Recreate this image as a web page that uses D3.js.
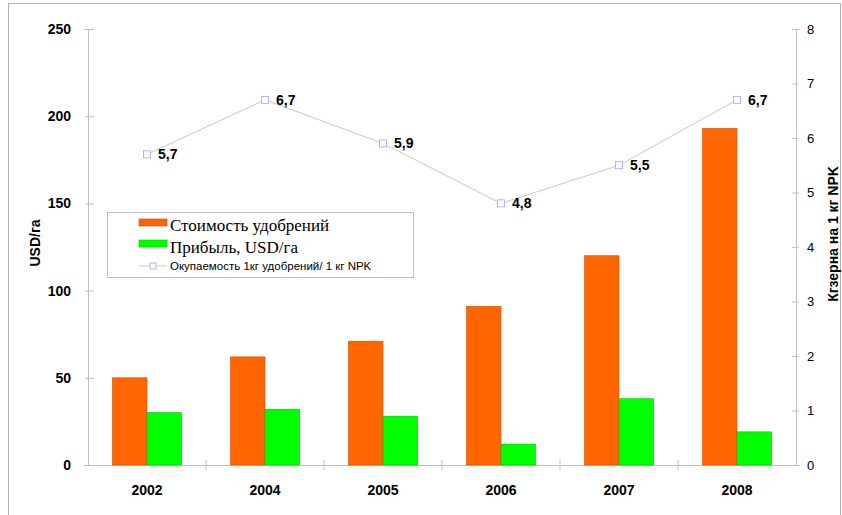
<!DOCTYPE html>
<html>
<head>
<meta charset="utf-8">
<script src="https://cdn.jsdelivr.net/npm/d3@7"></script>
<style>
  body { margin: 0; background: #fff; }
  svg { font-family: Arial, "Liberation Sans", sans-serif; }
</style>
</head>
<body>
<svg id="chart" width="842" height="515"></svg>
<script>
// Chart data
const years = ["2002", "2004", "2005", "2006", "2007", "2008"];
const costValues = [50, 62, 71, 91, 120, 193];
const profitValues = [30, 32, 28, 12, 38, 19];
const paybackValues = [5.7, 6.7, 5.9, 4.8, 5.5, 6.7];
const leftTicks = [0, 50, 100, 150, 200, 250];
const rightTicks = [0, 1, 2, 3, 4, 5, 6, 7, 8];

const svg = d3.select("#chart");
const margin = { top: 29, right: 46, bottom: 50, left: 88 };
const width = 842, height = 515;
const axisColor = "#c0c0c0";

// outer frame
svg.append("rect")
  .attr("x", 8.5).attr("y", 3.5)
  .attr("width", 832).attr("height", 530)
  .attr("fill", "none").attr("stroke", "#b0b0b0");

// x scale
const x = d3.scaleBand()
  .domain(years)
  .range([margin.left, width - margin.right])
  .paddingInner(0.415)
  .paddingOuter(0.2075);
const xc = d3.scaleBand().domain(years).range([margin.left, width - margin.right]);
const xSub = d3.scaleBand().domain(["cost", "profit"]).range([0, x.bandwidth()]);

// y scales
const y = d3.scaleLinear().domain([0, 250]).range([height - margin.bottom, margin.top]);
const y2 = d3.scaleLinear().domain([0, 8]).range([height - margin.bottom, margin.top]);

// left axis
const gL = svg.append("g")
  .attr("transform", "translate(" + margin.left + ",0)")
  .call(d3.axisLeft(y).tickValues(leftTicks).tickSize(4).tickPadding(13));
gL.selectAll(".tick line").attr("x2", -3).attr("x1", 6);
gL.selectAll("text").attr("font-size", 14).attr("font-weight", "bold").attr("fill", "#000");

// right axis
const gR = svg.append("g")
  .attr("transform", "translate(" + (width - margin.right) + ",0)")
  .call(d3.axisRight(y2).tickValues(rightTicks).tickSize(4).tickPadding(7));
gR.selectAll(".tick line").attr("x1", -4).attr("x2", 3);
gR.selectAll("text").attr("font-size", 13).attr("fill", "#000");

// bottom axis
const gB = svg.append("g")
  .attr("transform", "translate(0," + (height - margin.bottom) + ")")
  .call(d3.axisBottom(xc).tickSize(0).tickPadding(20).tickSizeOuter(0));
gB.selectAll("text").attr("font-size", 14).attr("font-weight", "bold").attr("fill", "#000");
gB.selectAll(".cat-tick")
  .data(years.slice(1))
  .join("line")
  .attr("x1", d => xc(d)).attr("x2", d => xc(d))
  .attr("y1", -5).attr("y2", 5)
  .attr("stroke", axisColor);

[gL, gR, gB].forEach(g => {
  g.selectAll(".domain").attr("stroke", axisColor);
  g.selectAll(".tick line").attr("stroke", axisColor);
});

// bars
const bars = svg.append("g");
bars.selectAll(".cost")
  .data(years)
  .join("rect")
  .attr("x", d => x(d) + xSub("cost"))
  .attr("y", (d, i) => y(costValues[i]))
  .attr("width", xSub.bandwidth())
  .attr("height", (d, i) => y(0) - y(costValues[i]))
  .attr("fill", "#ff6600")
  .attr("stroke", "#c85000").attr("stroke-width", 0.6);
bars.selectAll(".profit")
  .data(years)
  .join("rect")
  .attr("x", d => x(d) + xSub("profit"))
  .attr("y", (d, i) => y(profitValues[i]))
  .attr("width", xSub.bandwidth())
  .attr("height", (d, i) => y(0) - y(profitValues[i]))
  .attr("fill", "#00ff00")
  .attr("stroke", "#00c000").attr("stroke-width", 0.6);

// payback line
const cx = d => xc(d) + xc.bandwidth() / 2;
const line = d3.line()
  .x((d, i) => cx(years[i]))
  .y(d => y2(d));
svg.append("path")
  .datum(paybackValues)
  .attr("d", line)
  .attr("fill", "none")
  .attr("stroke", "#c8c8c8")
  .attr("stroke-width", 1);
svg.append("g").selectAll("rect")
  .data(paybackValues)
  .join("rect")
  .attr("x", (d, i) => cx(years[i]) - 3.5)
  .attr("y", d => y2(d) - 3.5)
  .attr("width", 7).attr("height", 7)
  .attr("fill", "#fff")
  .attr("stroke", "#a0a0ff").attr("stroke-width", 0.8);
svg.append("g").selectAll("text")
  .data(paybackValues)
  .join("text")
  .attr("x", (d, i) => cx(years[i]) + 11)
  .attr("y", d => y2(d) + 5)
  .attr("font-size", 14)
  .attr("font-weight", "bold")
  .text(d => d3.format(".1f")(d).replace(".", ","));

// axis titles
svg.append("text")
  .attr("transform", "translate(40,243) rotate(-90)")
  .attr("text-anchor", "middle")
  .attr("font-size", 14).attr("font-weight", "bold")
  .text("USD/га");
svg.append("text")
  .attr("transform", "translate(838,234) rotate(-90)")
  .attr("text-anchor", "middle")
  .attr("font-size", 14).attr("font-weight", "bold")
  .text("Кгзерна на 1 кг NPK");

// legend
const lg = svg.append("g");
lg.append("rect")
  .attr("x", 107.5).attr("y", 212.5)
  .attr("width", 306).attr("height", 65)
  .attr("fill", "#fff").attr("stroke", "#c0c0c0");
lg.append("rect").attr("x", 139).attr("y", 219).attr("width", 28).attr("height", 7)
  .attr("fill", "#ff6600").attr("stroke", "#c85000").attr("stroke-width", 0.6);
lg.append("text").attr("x", 170).attr("y", 231)
  .attr("font-family", "'Liberation Serif', 'Times New Roman', serif")
  .attr("font-size", 17).text("Стоимость удобрений");
lg.append("rect").attr("x", 139).attr("y", 240).attr("width", 28).attr("height", 7)
  .attr("fill", "#00ff00").attr("stroke", "#00c000").attr("stroke-width", 0.6);
lg.append("text").attr("x", 170).attr("y", 253)
  .attr("font-family", "'Liberation Serif', 'Times New Roman', serif")
  .attr("font-size", 17).text("Прибыль, USD/га");
lg.append("line").attr("x1", 139).attr("x2", 167).attr("y1", 266).attr("y2", 266)
  .attr("stroke", "#c8c8c8");
lg.append("rect").attr("x", 150).attr("y", 263).attr("width", 6).attr("height", 6)
  .attr("fill", "#fff").attr("stroke", "#a0a0ff").attr("stroke-width", 0.8);
lg.append("text").attr("x", 170).attr("y", 270)
  .attr("font-size", 11.5).text("Окупаемость 1кг удобрений/ 1 кг NPK");
</script>
</body>
</html>
